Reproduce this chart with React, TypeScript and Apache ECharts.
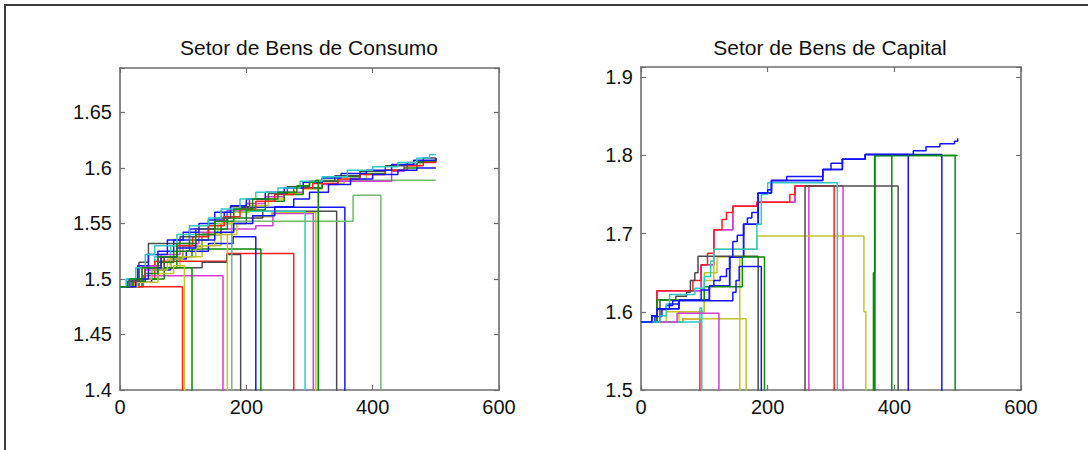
import React, { useEffect, useRef } from "react";
import * as echarts from "echarts";

// ---------- tick values ----------
const xTicks = [0, 200, 400, 600];
const leftYTicks = [1.4, 1.45, 1.5, 1.55, 1.6, 1.65];
const rightYTicks = [1.5, 1.6, 1.7, 1.8, 1.9];
const titles = ["Setor de Bens de Consumo", "Setor de Bens de Capital"];

// ---------- left chart (Consumo): [iteration, value] step paths ----------
const consBundleCyan = [[0,1.493],[10,1.5],[25,1.51],[40,1.522],[55,1.53],[90,1.54],[110,1.548],[140,1.555],[160,1.563],[190,1.572],[215,1.578],[250,1.582],[285,1.588],[320,1.592],[360,1.598],[400,1.601],[440,1.605],[470,1.609],[490,1.612],[500,1.612]];
const consBundleBlack = [[0,1.493],[12,1.498],[30,1.515],[45,1.532],[95,1.538],[120,1.545],[150,1.555],[175,1.565],[205,1.572],[235,1.577],[265,1.583],[300,1.588],[340,1.593],[380,1.597],[420,1.602],[455,1.605],[480,1.609],[500,1.609]];
const consBundleBlue1 = [[0,1.493],[15,1.5],[28,1.512],[45,1.522],[75,1.535],[100,1.542],[125,1.55],[150,1.56],[175,1.566],[200,1.572],[230,1.578],[260,1.582],[290,1.587],[320,1.591],[350,1.595],[390,1.598],[430,1.603],[465,1.607],[500,1.609]];
const consBundleBlue2 = [[0,1.493],[25,1.5],[45,1.51],[65,1.52],[90,1.528],[120,1.535],[150,1.542],[180,1.55],[210,1.557],[245,1.565],[275,1.572],[300,1.578],[330,1.585],[365,1.59],[400,1.594],[440,1.598],[470,1.6],[500,1.6]];
const consBundleRed = [[0,1.493],[22,1.5],[40,1.51],[60,1.52],[90,1.53],[115,1.538],[140,1.548],[165,1.556],[190,1.563],[215,1.57],[245,1.576],[275,1.582],[305,1.586],[345,1.59],[380,1.594],[420,1.598],[455,1.602],[480,1.605],[500,1.607]];
const consBundleMagenta = [[0,1.493],[18,1.5],[35,1.512],[65,1.522],[95,1.532],[125,1.542],[150,1.552],[170,1.562],[200,1.568],[230,1.574],[260,1.578],[290,1.582],[320,1.585],[345,1.588],[430,1.597],[450,1.603],[470,1.606],[500,1.608]];
const consBundleYellow = [[0,1.493],[28,1.5],[50,1.508],[75,1.518],[100,1.528],[130,1.54],[155,1.55],[180,1.56],[205,1.566],[235,1.572],[260,1.577],[290,1.581],[320,1.586],[355,1.59],[390,1.594],[420,1.598],[450,1.602],[475,1.606],[500,1.608]];
const consBundleGreen = [[0,1.493],[20,1.498],[40,1.505],[60,1.515],[85,1.525],[110,1.535],[140,1.545],[170,1.555],[200,1.562],[230,1.57],[260,1.576],[290,1.582],[320,1.588],[345,1.592],[380,1.595],[420,1.598],[450,1.6],[470,1.606],[500,1.609]];
const consTopLightGreen = [[0,1.3],[314,1.589],[500,1.589]];

const consDropRed1 = [[0,1.493],[99,1.3]];
const consDropYellow1 = [[0,1.493],[20,1.497],[60,1.505],[85,1.512],[102,1.3]];
const consDropGreen1 = [[0,1.493],[30,1.5],[70,1.51],[114,1.3]];
const consDropMagenta1 = [[0,1.493],[37,1.503],[163,1.3]];
const consDropYellow2 = [[0,1.493],[25,1.5],[50,1.51],[80,1.52],[120,1.53],[150,1.54],[170,1.3]];
const consDropBlack1 = [[0,1.493],[25,1.5],[60,1.51],[130,1.515],[169,1.522],[191,1.3]];
const consDropBlue1 = [[0,1.493],[20,1.497],[50,1.508],[80,1.518],[105,1.525],[140,1.532],[179,1.538],[215,1.3]];
const consDropGreen2 = [[0,1.493],[35,1.5],[60,1.51],[90,1.52],[114,1.527],[223,1.3]];
const consDropRed2 = [[0,1.493],[30,1.5],[55,1.516],[169,1.523],[275,1.3]];
const consDropCyan = [[0,1.493],[10,1.5],[30,1.51],[55,1.52],[80,1.53],[110,1.54],[140,1.55],[169,1.561],[293,1.3]];
const consDropMagenta2 = [[0,1.493],[15,1.499],[40,1.508],[70,1.52],[100,1.53],[130,1.54],[160,1.545],[215,1.548],[242,1.559],[306,1.3]];
const consDropYellow3 = [[0,1.493],[35,1.5],[60,1.51],[95,1.52],[130,1.53],[160,1.54],[185,1.55],[210,1.556],[240,1.56],[310,1.3]];
const consDropGreen3 = [[0,1.493],[15,1.5],[35,1.51],[60,1.52],[90,1.532],[120,1.54],[150,1.552],[180,1.563],[210,1.572],[250,1.578],[280,1.584],[300,1.587],[310,1.589],[314,1.3]];
const consDropBlack2 = [[0,1.493],[15,1.5],[40,1.51],[70,1.52],[100,1.53],[130,1.54],[160,1.55],[200,1.555],[226,1.561],[343,1.3]];
const consDropBlue2 = [[0,1.493],[20,1.5],[40,1.512],[60,1.525],[85,1.535],[110,1.545],[140,1.553],[165,1.56],[193,1.5645],[356,1.3]];
const consDropLightGreen = [[0,1.3],[177,1.552],[369,1.5755],[413,1.3]];

// ---------- right chart (Capital) ----------
const capBlueMain = [[0,1.587],[17,1.595],[25,1.604],[45,1.61],[60,1.615],[95,1.628],[108,1.633],[115,1.64],[125,1.645],[135,1.655],[140,1.67],[145,1.69],[152,1.698],[162,1.712],[168,1.72],[175,1.727],[185,1.752],[200,1.756],[206,1.768],[230,1.773],[287,1.782],[300,1.79],[318,1.795],[354,1.801],[430,1.806],[450,1.811],[472,1.815],[495,1.818],[500,1.822]];
const capBlue2 = [[0,1.587],[17,1.595],[25,1.604],[60,1.615],[108,1.633],[140,1.67],[162,1.712],[185,1.752],[206,1.768],[287,1.782],[318,1.795],[354,1.801],[422,1.4]];
const capBlue3 = [[0,1.587],[17,1.595],[25,1.604],[60,1.615],[108,1.633],[140,1.67],[162,1.712],[185,1.752],[206,1.768],[287,1.782],[318,1.795],[354,1.801],[475,1.4]];
const capBlue4 = [[0,1.587],[22,1.594],[33,1.603],[40,1.608],[50,1.614],[145,1.625],[150,1.64],[155,1.658],[190,1.4]];
const capRed1 = [[0,1.587],[25,1.627],[82,1.64],[95,1.66],[105,1.675],[115,1.705],[128,1.718],[135,1.727],[145,1.735],[183,1.74],[235,1.75],[243,1.761],[305,1.4]];
const capRed2 = [[0,1.587],[66,1.591],[93,1.4]];
const capCyan1 = [[0,1.587],[30,1.595],[40,1.61],[45,1.622],[85,1.63],[100,1.645],[110,1.665],[115,1.68],[183,1.712],[190,1.75],[200,1.765],[310,1.4]];
const capCyan2 = [[0,1.587],[93,1.605],[96,1.4]];
const capMagenta1 = [[0,1.587],[57,1.598],[123,1.4]];
const capMagenta2 = [[0,1.587],[25,1.627],[95,1.66],[115,1.705],[145,1.735],[183,1.74],[243,1.761],[265,1.4]];
const capMagenta3 = [[0,1.587],[25,1.627],[95,1.66],[115,1.705],[145,1.735],[183,1.74],[243,1.761],[319,1.4]];
const capBlack1 = [[0,1.587],[30,1.615],[55,1.62],[72,1.625],[78,1.64],[85,1.65],[90,1.671],[185,1.4]];
const capBlack2 = [[0,1.4],[259,1.761],[406,1.4]];
const capGreen1 = [[0,1.587],[25,1.615],[100,1.632],[160,1.67],[195,1.4]];
const capGreen2 = [[0,1.4],[367,1.65],[369,1.8],[396,1.4]];
const capGreen3 = [[0,1.4],[369,1.8],[496,1.4]];
const capGreen4 = [[0,1.4],[369,1.8],[500,1.8]];
const capYellow1 = [[0,1.587],[66,1.591],[166,1.4]];
const capYellow2 = [[0,1.587],[60,1.6],[100,1.65],[120,1.67],[156,1.4]];
const capYellow3 = [[0,1.587],[40,1.6],[100,1.64],[115,1.68],[183,1.697],[352,1.6],[355,1.4]];

// ---------- styling ----------
const COL = {
  b: "#1414ff", g: "#0b8a0b", r: "#ff1e1e", c: "#2ec8c8",
  m: "#d23cd2", y: "#c4c42a", k: "#4c4c4c", lg: "#72b972",
};
const FONT = "'Liberation Sans', Arial, Helvetica, sans-serif";
const AXIS_COLOR = "#6e6e6e";

const leftSeries: [number[][], string][] = [
  [consDropMagenta2, COL.m], [consDropYellow3, COL.y], [consDropBlack2, COL.k],
  [consDropBlue2, COL.b], [consDropCyan, COL.c], [consDropRed2, COL.r],
  [consDropGreen2, COL.g], [consDropBlue1, COL.b], [consDropBlack1, COL.k],
  [consDropYellow2, COL.y], [consDropMagenta1, COL.m], [consDropGreen1, COL.g],
  [consDropYellow1, COL.y], [consDropRed1, COL.r],
  [consTopLightGreen, COL.lg], [consDropLightGreen, COL.lg],
  [consBundleYellow, COL.y], [consBundleMagenta, COL.m], [consBundleGreen, COL.g],
  [consBundleRed, COL.r], [consBundleBlue2, COL.b], [consBundleBlack, COL.k],
  [consBundleBlue1, COL.b], [consBundleCyan, COL.c], [consDropGreen3, COL.g],
];

const rightSeries: [number[][], string][] = [
  [capMagenta2, COL.m], [capMagenta3, COL.m], [capRed2, COL.r],
  [capYellow2, COL.y], [capYellow3, COL.y], [capYellow1, COL.y],
  [capBlue2, COL.b], [capBlue3, COL.b],
  [capGreen2, COL.g], [capGreen3, COL.g], [capGreen4, COL.g],
  [capRed1, COL.r], [capBlack2, COL.k], [capCyan2, COL.c], [capMagenta1, COL.m],
  [capBlack1, COL.k], [capGreen1, COL.g], [capBlue4, COL.b], [capCyan1, COL.c],
  [capBlueMain, COL.b],
];

const fmt = (v: number) => String(parseFloat(v.toFixed(3)));

function xAxisPair(gridIndex: number) {
  const base = {
    type: "value", gridIndex, min: 0, max: 600, interval: 200,
    splitLine: { show: false },
    axisLine: { show: true, onZero: false, lineStyle: { color: AXIS_COLOR, width: 1.6 } },
    axisTick: { show: true, inside: true, length: 5, lineStyle: { color: AXIS_COLOR, width: 1.2 } },
  };
  return [
    { ...base, position: "bottom",
      axisLabel: { show: true, fontSize: 20, color: "#111", fontFamily: FONT, margin: 7,
        formatter: (v: number) => (xTicks.includes(Math.round(v)) ? String(Math.round(v)) : "") } },
    { ...base, position: "top", axisLabel: { show: false } },
  ];
}

function yAxisPair(gridIndex: number, min: number, max: number, interval: number, ticks: number[]) {
  const base = {
    type: "value", gridIndex, min, max, interval,
    splitLine: { show: false },
    axisLine: { show: true, onZero: false, lineStyle: { color: AXIS_COLOR, width: 1.6 } },
    axisTick: { show: true, inside: true, length: 5, lineStyle: { color: AXIS_COLOR, width: 1.2 } },
  };
  return [
    { ...base, position: "left",
      axisLabel: { show: true, fontSize: 20, color: "#111", fontFamily: FONT, margin: 8,
        formatter: (v: number) => (ticks.some((t) => Math.abs(t - v) < 1e-6) ? fmt(v) : "") } },
    { ...base, position: "right", axisLabel: { show: false } },
  ];
}

function buildSeries(list: [number[][], string][], gridAxis: number) {
  return list.map(([data, color], i) => ({
    type: "line",
    name: `s${gridAxis}-${i}`,
    xAxisIndex: gridAxis * 2,
    yAxisIndex: gridAxis * 2,
    data,
    step: "end",
    symbol: "none",
    showSymbol: false,
    clip: true,
    silent: true,
    lineStyle: { color, width: 1.5 },
  }));
}

export default function App() {
  const ref = useRef<HTMLDivElement>(null);
  useEffect(() => {
    document.body.style.margin = "0";
    if (!ref.current) return;
    const chart = echarts.init(ref.current, undefined, { renderer: "svg" });
    chart.setOption({
      animation: false,
      backgroundColor: "#ffffff",
      title: [
        { text: titles[0], left: 304, top: 32, textAlign: "center",
          textStyle: { fontSize: 21, fontWeight: "normal", color: "#111", fontFamily: FONT } },
        { text: titles[1], left: 825, top: 32, textAlign: "center",
          textStyle: { fontSize: 21, fontWeight: "normal", color: "#111", fontFamily: FONT } },
      ],
      grid: [
        { left: 120, top: 68, width: 379, height: 322, containLabel: false },
        { left: 641, top: 67, width: 380, height: 323, containLabel: false },
      ],
      xAxis: [...xAxisPair(0), ...xAxisPair(1)],
      yAxis: [
        ...yAxisPair(0, 1.4, 1.69, 0.05, leftYTicks),
        ...yAxisPair(1, 1.5, 1.913, 0.1, rightYTicks),
      ],
      graphic: [
        { type: "polyline", silent: true,
          shape: { points: [[5, 450], [5, 5], [1088, 5]] },
          style: { stroke: "#3c3c3c", lineWidth: 2, fill: "none" } },
      ],
      series: [...buildSeries(leftSeries, 0), ...buildSeries(rightSeries, 1)],
    });
    return () => chart.dispose();
  }, []);
  return <div ref={ref} style={{ width: 1088, height: 450 }} />;
}
